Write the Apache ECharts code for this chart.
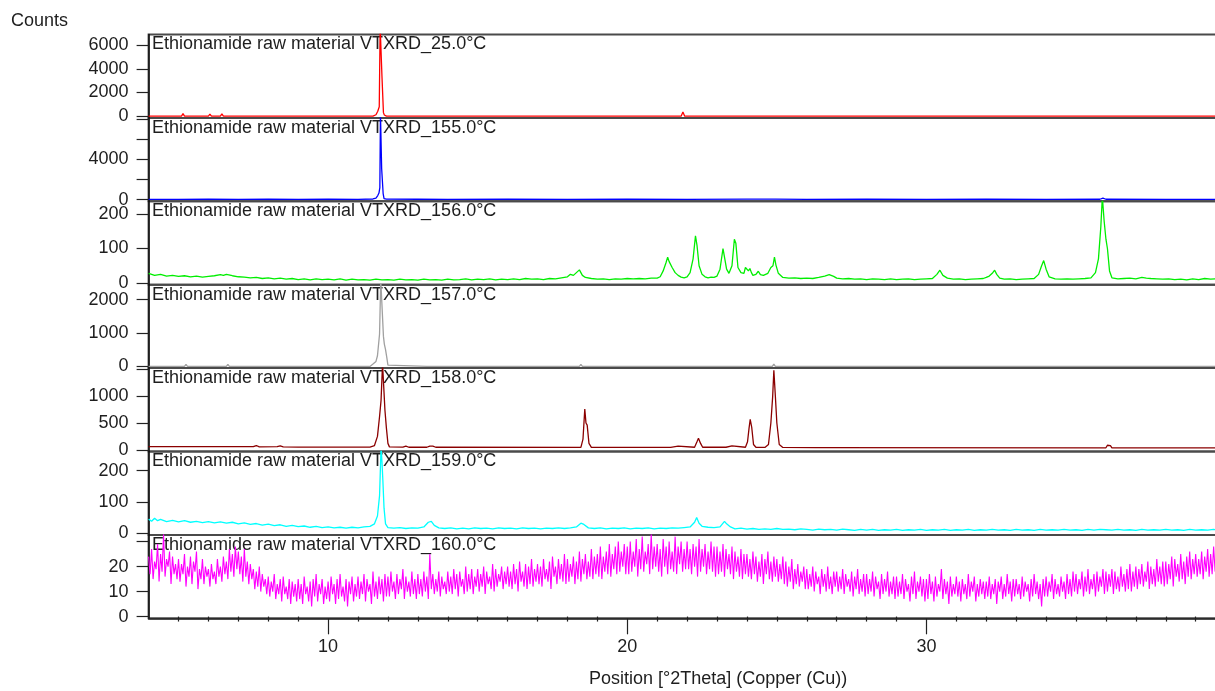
<!DOCTYPE html>
<html>
<head>
<meta charset="utf-8">
<script src="https://cdn.jsdelivr.net/npm/echarts@6.0.0/dist/echarts.min.js"></script>
<style>html,body{margin:0;padding:0;background:#fff}#chart{width:1215px;height:691px}</style>
</head>
<body>
<div id="chart"></div>
<script>
// ---------------- data ----------------
const panelTitles = [
  'Ethionamide raw material VTXRD_25.0°C',
  'Ethionamide raw material VTXRD_155.0°C',
  'Ethionamide raw material VTXRD_156.0°C',
  'Ethionamide raw material VTXRD_157.0°C',
  'Ethionamide raw material VTXRD_158.0°C',
  'Ethionamide raw material VTXRD_159.0°C',
  'Ethionamide raw material VTXRD_160.0°C'
];
const seriesColors = ['#ff0000', '#0000ff', '#00ee00', '#a0a0a0', '#8b0000', '#00ffff', '#ff00ff'];

// y-axis ranges, ticks and labels per panel
const yRanges = [[-145, 6900], [-170, 8130], [-5, 237], [-51, 2450], [-31, 1520], [-5.4, 261], [-0.7, 32.7]];
const yTicks = [[0, 2000, 4000, 6000], [0, 2000, 4000, 6000, 8000], [0, 100, 200], [0, 1000, 2000], [0, 500, 1000, 1500], [0, 100, 200], [0, 10, 20, 30]];
const yLabels = [[0, 2000, 4000, 6000], [0, 4000], [0, 100, 200], [0, 1000, 2000], [0, 500, 1000], [0, 100, 200], [0, 10, 20]];

const xMajorTicks = [10, 20, 30];
const xMinorTicks = [5, 6, 7, 8, 9, 11, 12, 13, 14, 15, 16, 17, 18, 19, 21, 22, 23, 24, 25, 26, 27, 28, 29, 31, 32, 33, 34, 35, 36, 37, 38, 39];

// 25.0 °C
const red25 = [[4,0],[5.1,0],[5.15,220],[5.2,0],[6.0,0],[6.05,180],[6.1,0],[6.4,0],[6.45,200],[6.5,0],[6.7,0],[6.75,160],[6.8,0],
  [11.5,0],[11.6,120],[11.66,420],[11.71,800],[11.74,7600],[11.78,7600],[11.8,3400],[11.83,3400],[11.85,300],[11.88,100],[11.95,0],
  [21.8,0],[21.86,360],[21.92,0],[40,0]];
// 155.0 °C
const blue155 = [[4,30],[5,25],[6,35],[7,30],[8,35],[9,28],[10,35],[11,30],[11.5,60],[11.6,150],[11.66,400],[11.7,650],[11.73,1200],
  [11.75,8600],[11.78,8600],[11.79,3100],[11.82,3100],[11.84,600],[11.87,100],[11.95,40],[13,35],[14,30],[16,35],[18,30],[20,35],
  [22,30],[24,40],[24.85,40],[24.9,110],[24.95,40],[26,30],[28,35],[30,30],[32,35],[34,30],[35.8,35],[35.9,150],[36.0,35],[38,30],[40,30]];
// 156.0 °C
const green156 = [[4.0,28],[4.2,22],[4.4,25],[4.6,20],[4.8,22],[5.0,19],[5.2,21],[5.4,18],[5.6,20],[5.8,17],[6.0,19],[6.2,21],[6.4,24],
  [6.5,22],[6.6,25],[6.8,21],[7.0,18],[7.2,17],[7.4,15],[7.6,16],[7.8,13],[8.0,15],[8.2,12],[8.4,14],[8.6,11],[8.8,13],[9.0,10],
  [9.2,12],[9.4,9],[9.6,12],[9.8,10],[10.0,11],[10.2,9],[10.4,12],[10.6,8],[10.8,11],[11.0,9],[11.2,10],[11.4,8],[11.6,11],[11.8,9],
  [12.0,10],[12.2,8],[12.4,11],[12.6,9],[12.8,10],[13.0,8],[13.2,11],[13.4,9],[13.6,10],[13.8,8],[14.0,11],[14.2,9],[14.4,10],
  [14.6,12],[14.8,9],[15.0,11],[15.2,10],[15.4,12],[15.6,9],[15.8,11],[16.0,10],[16.2,12],[16.4,10],[16.6,13],[16.8,11],[17.0,12],
  [17.2,10],[17.4,13],[17.6,12],[17.8,15],[18.0,18],[18.1,25],[18.2,22],[18.3,30],[18.4,38],[18.45,30],[18.5,22],[18.6,16],[18.8,13],
  [19.0,11],[19.2,12],[19.4,10],[19.6,12],[19.8,11],[20.0,13],[20.2,12],[20.4,13],[20.6,12],[20.8,14],[21.0,14],[21.1,18],[21.2,35],
  [21.3,60],[21.35,75],[21.4,62],[21.5,45],[21.6,30],[21.7,22],[21.8,17],[21.9,15],[22.0,18],[22.1,30],[22.2,70],[22.28,137],
  [22.33,110],[22.4,50],[22.5,25],[22.6,18],[22.7,15],[22.8,17],[22.9,16],[23.0,20],[23.1,40],[23.2,100],[23.26,95],[23.32,40],
  [23.4,28],[23.5,50],[23.58,127],[23.63,115],[23.7,45],[23.8,30],[23.9,28],[23.95,45],[24.0,48],[24.05,35],[24.1,42],[24.15,30],
  [24.2,22],[24.3,25],[24.38,34],[24.45,24],[24.55,22],[24.7,28],[24.8,45],[24.87,50],[24.92,75],[24.97,52],[25.05,28],[25.2,16],
  [25.4,14],[25.6,15],[25.8,13],[26.0,14],[26.2,13],[26.4,16],[26.6,20],[26.75,24],[26.9,19],[27.0,14],[27.2,12],[27.4,13],[27.6,11],
  [27.8,12],[28.0,10],[28.2,12],[28.4,11],[28.6,10],[28.8,12],[29.0,10],[29.2,11],[29.4,12],[29.6,10],[29.8,11],[30.0,12],[30.2,13],
  [30.35,25],[30.45,37],[30.55,22],[30.7,14],[30.9,11],[31.1,12],[31.3,10],[31.5,11],[31.7,12],[31.9,13],[32.0,16],[32.1,20],[32.2,28],
  [32.28,37],[32.35,25],[32.45,14],[32.6,11],[32.8,12],[33.0,10],[33.2,11],[33.4,12],[33.6,13],[33.75,25],[33.85,50],[33.92,65],
  [34.0,40],[34.1,18],[34.3,12],[34.5,11],[34.7,12],[34.9,11],[35.1,12],[35.3,13],[35.5,15],[35.65,30],[35.75,70],[35.83,164],
  [35.88,250],[35.94,180],[36.0,127],[36.05,100],[36.12,35],[36.2,15],[36.4,12],[36.6,13],[36.8,14],[37.0,12],[37.2,16],[37.35,14],
  [37.5,13],[37.7,12],[37.9,11],[38.1,12],[38.3,10],[38.5,11],[38.7,9],[38.9,12],[39.1,10],[39.3,13],[39.5,11],[39.7,12]];
// 157.0 °C
const grey157 = [[4,0],[5.2,0],[5.25,60],[5.3,0],[6.1,0],[6.15,50],[6.2,0],[6.6,0],[6.65,60],[6.7,0],[11.4,0],[11.5,70],[11.6,150],
  [11.65,320],[11.72,970],[11.76,2600],[11.81,2600],[11.85,900],[11.88,670],[11.92,500],[11.96,280],[12.0,40],[12.05,0],
  [13.3,0],[13.35,50],[13.4,0],[18.4,0],[18.45,60],[18.5,0],[21.5,0],[21.55,40],[21.6,0],[22.35,0],[22.4,50],[22.45,0],
  [23.35,0],[23.4,50],[23.45,0],[24.1,0],[24.15,30],[24.2,0],[24.85,0],[24.9,70],[24.95,0],[40,0]];
// 158.0 °C
const darkred158 = [[4,58],[7.5,58],[7.6,80],[7.7,55],[8.3,58],[8.4,75],[8.5,55],[9,52],[11.4,52],[11.55,80],[11.65,250],[11.72,620],
  [11.77,920],[11.82,1600],[11.87,1600],[11.9,735],[11.95,400],[12.0,120],[12.05,55],[12.5,50],[12.6,70],[12.7,48],[13.3,48],[13.4,70],
  [13.5,70],[13.6,48],[18.45,45],[18.52,200],[18.58,760],[18.62,500],[18.66,460],[18.72,120],[18.8,45],[21.45,45],[21.5,70],[21.7,70],
  [21.75,45],[22.25,48],[22.33,150],[22.38,215],[22.45,120],[22.52,48],[23.3,48],[23.35,75],[23.5,75],[23.55,48],[23.95,48],[24.02,150],
  [24.07,400],[24.11,565],[24.16,420],[24.22,100],[24.3,48],[24.6,45],[24.72,100],[24.8,500],[24.86,990],[24.9,1480],[24.95,1000],
  [25.0,500],[25.08,100],[25.2,45],[26.3,42],[26.35,70],[26.4,42],[36.0,38],[36.05,85],[36.15,80],[36.2,38],[37.2,38],[37.25,65],
  [37.3,38],[40,38]];
// 159.0 °C
const cyan159 = [[4.0,45],[4.1,38],[4.2,48],[4.3,40],[4.4,44],[4.6,37],[4.8,41],[5.0,36],[5.2,40],[5.4,35],[5.6,38],[5.8,34],[6.0,37],
  [6.2,33],[6.4,36],[6.6,32],[6.8,35],[7.0,30],[7.2,33],[7.4,28],[7.6,31],[7.8,26],[8.0,29],[8.2,24],[8.4,27],[8.6,22],[8.8,25],[9.0,21],
  [9.2,23],[9.4,19],[9.6,22],[9.8,18],[10.0,20],[10.2,17],[10.4,19],[10.6,16],[10.8,19],[11.0,17],[11.2,20],[11.4,22],[11.55,30],
  [11.65,55],[11.72,120],[11.77,275],[11.8,230],[11.83,170],[11.87,80],[11.92,30],[12.0,18],[12.2,16],[12.4,18],[12.6,15],[12.8,17],
  [13.0,16],[13.2,20],[13.35,35],[13.45,38],[13.55,25],[13.7,17],[13.9,15],[14.1,17],[14.3,14],[14.5,16],[14.7,14],[14.9,17],[15.1,15],
  [15.3,16],[15.5,14],[15.7,17],[15.9,15],[16.1,16],[16.3,14],[16.5,17],[16.7,15],[16.9,16],[17.1,14],[17.3,16],[17.5,15],[17.7,17],
  [17.9,15],[18.1,17],[18.3,20],[18.45,32],[18.55,28],[18.7,17],[18.9,15],[19.1,17],[19.3,14],[19.5,16],[19.7,15],[19.9,17],[20.1,14],
  [20.3,16],[20.5,15],[20.7,17],[20.9,14],[21.1,16],[21.3,15],[21.5,17],[21.7,16],[21.9,18],[22.1,20],[22.25,35],[22.32,50],[22.4,32],
  [22.5,22],[22.7,19],[22.9,18],[23.1,20],[23.25,38],[23.32,30],[23.45,20],[23.6,14],[23.8,16],[24.0,13],[24.2,15],[24.4,12],[24.6,14],
  [24.8,12],[25.0,15],[25.2,12],[25.4,13],[25.6,11],[25.8,14],[26.0,12],[26.2,10],[26.4,13],[26.6,11],[26.8,12],[27.0,10],[27.2,13],
  [27.4,11],[27.6,9],[27.8,12],[28.0,10],[28.2,12],[28.4,9],[28.6,11],[28.8,10],[29.0,12],[29.2,9],[29.4,11],[29.6,10],[29.8,12],
  [30.0,9],[30.2,11],[30.4,10],[30.6,12],[30.8,9],[31.0,11],[31.2,10],[31.4,12],[31.6,9],[31.8,11],[32.0,10],[32.2,12],[32.4,10],
  [32.6,11],[32.8,9],[33.0,12],[33.2,10],[33.4,11],[33.6,9],[33.8,12],[34.0,10],[34.2,11],[34.4,10],[34.6,12],[34.8,10],[35.0,11],
  [35.2,9],[35.4,12],[35.6,10],[35.8,12],[36.0,11],[36.2,10],[36.4,12],[36.6,10],[36.8,11],[37.0,9],[37.2,12],[37.4,10],[37.6,11],
  [37.8,10],[38.0,12],[38.2,10],[38.4,11],[38.6,9],[38.8,12],[39.0,10],[39.2,11],[39.4,10],[39.6,12],[39.7,11]];
// 160.0 °C : scan from 4.0° with 0.05° step (one row per degree)
const magentaStart = 4.0;
const magentaStep = 0.05;
const magenta160 = [
  24,17,27,15,22,19,29,14,25,18,33,16,23,20,26,13,24,17,21,15,
  23,14,21,17,25,12,20,16,24,13,22,18,26,11,19,15,23,13,20,16,
  19,12,21,15,18,13,23,16,20,14,24,17,22,15,27,18,25,16,28,19,
  26,17,24,14,27,16,22,13,21,15,19,11,18,12,20,10,17,12,15,9,
  16,8,14,10,17,7,13,9,15,6,16,9,12,7,15,5,14,8,13,6,
  15,7,13,5,16,9,12,6,14,4,15,8,17,6,13,9,15,5,12,7,
  14,6,16,9,13,5,15,7,17,8,12,6,15,4,14,9,16,6,13,8,
  16,7,14,9,17,6,15,10,13,5,18,8,14,7,16,9,15,6,17,8,
  16,8,18,10,14,7,17,9,15,11,19,7,16,10,14,8,18,9,15,7,
  17,9,15,8,18,10,16,7,25,11,17,9,15,10,18,8,16,11,14,9,
  18,10,16,9,19,11,17,8,18,12,15,9,20,10,17,11,19,9,16,12,
  19,10,17,12,20,9,18,13,16,11,21,10,19,12,17,14,20,11,18,13,
  20,12,18,11,21,13,19,10,22,14,18,12,21,11,20,13,23,12,19,14,
  21,13,20,12,23,15,19,14,22,11,24,16,20,13,23,15,21,14,25,13,
  23,14,21,16,24,13,22,15,26,14,23,17,25,15,22,16,27,15,24,17,
  25,16,28,15,24,18,26,17,29,16,25,19,28,17,30,18,26,20,29,17,
  28,17,30,18,26,20,31,16,27,19,32,18,26,21,29,17,33,19,28,20,
  29,18,27,16,31,20,28,17,30,19,26,18,32,17,28,21,30,18,27,19,
  30,19,27,17,29,20,28,16,31,18,27,20,29,17,26,19,30,18,28,16,
  28,17,26,18,29,16,27,19,25,17,28,15,26,18,24,16,27,15,25,17,
  25,16,23,15,26,17,24,14,22,16,25,13,23,17,26,15,22,14,24,16,
  23,14,21,15,24,13,22,12,20,14,23,11,19,13,21,12,18,14,20,11,
  19,11,17,12,20,10,18,13,16,9,19,12,17,10,20,11,16,9,18,12,
  18,10,16,11,19,9,17,12,15,10,18,8,16,11,19,9,15,10,17,8,
  17,9,15,10,18,8,16,11,14,7,17,9,15,10,18,8,14,9,16,7,
  16,8,14,9,17,7,15,10,13,6,16,9,18,7,14,10,16,8,15,6,
  15,7,17,9,14,6,16,8,13,10,19,7,15,9,14,5,16,8,13,9,
  16,8,14,6,15,9,13,7,17,8,14,10,16,6,13,8,15,9,14,7,
  14,8,16,7,13,9,15,5,14,10,16,7,13,8,17,9,14,6,15,8,
  15,9,13,7,16,8,14,10,13,6,15,8,17,9,14,7,13,4,15,8,
  16,8,14,10,17,7,15,9,13,8,16,10,14,7,17,9,15,8,18,10,
  17,9,15,11,18,8,16,10,19,9,15,11,17,8,18,10,16,12,19,9,
  18,10,17,12,19,9,18,11,16,10,20,12,17,10,19,11,21,10,18,12,
  20,11,19,13,21,12,18,14,22,11,20,13,19,12,23,14,20,13,22,12,
  22,13,21,15,24,12,23,16,21,14,25,15,22,13,24,16,26,15,23,17,
  25,16,23,17,26,15,24,18,27,16,25,17,28,18
];

// ---------------- layout / build ----------------
const FONT = '"Liberation Sans", Arial, sans-serif';
const TXT = '#1e1e1e';
const panelTop = 34.5, panelH = 83.4, plotLeft = 148.6, plotWidth = 1077;
const xMin = 4, xMax = 40;

const magentaPairs = magenta160.map((v, i) => [+(magentaStart + i * magentaStep).toFixed(2), v]);
const allData = [red25, blue155, green156, grey157, darkred158, cyan159, magentaPairs];
const plainNum = v => String(v);

const grids = [], xAxes = [], yAxes = [], series = [], titles = [];
for (let i = 0; i < 7; i++) {
  const top = panelTop + i * panelH;
  grids.push({ left: plotLeft, top: top, width: plotWidth, height: panelH, show: true,
    outerBoundsMode: 'none', containLabel: false,
    borderColor: '#4a4a4a', borderWidth: 2, backgroundColor: 'transparent' });
  const last = i === 6;
  xAxes.push({ type: 'value', gridIndex: i, min: xMin, max: xMax, position: 'bottom',
    axisLine: { show: last, onZero: false, lineStyle: { color: '#222', width: 1.5 } },
    axisTick: { show: last, length: 16, customValues: xMajorTicks, lineStyle: { color: '#222', width: 1.2 } },
    axisLabel: { show: last, customValues: xMajorTicks, formatter: plainNum, margin: 20, fontSize: 18, color: TXT, fontFamily: FONT },
    splitLine: { show: false },
    name: last ? 'Position [°2Theta] (Copper (Cu))' : '', nameLocation: 'middle', nameGap: 52,
    nameTextStyle: { fontSize: 18, color: TXT, fontFamily: FONT, padding: [0, 0, 0, 62] } });
  yAxes.push({ type: 'value', gridIndex: i, min: yRanges[i][0], max: yRanges[i][1],
    axisLine: { show: true, lineStyle: { color: '#111', width: 1.5 } },
    axisTick: { show: true, length: 12, customValues: yTicks[i], lineStyle: { color: '#222', width: 1.2 } },
    axisLabel: { show: true, customValues: yLabels[i], formatter: plainNum, margin: 20, fontSize: 18, color: TXT, fontFamily: FONT },
    splitLine: { show: false } });
  series.push({ type: 'line', xAxisIndex: i, yAxisIndex: i, data: allData[i], showSymbol: false, symbol: 'none',
    sampling: null, clip: true, animation: false, z: 3,
    lineStyle: { color: seriesColors[i], width: last ? 1.1 : 1.3 }, itemStyle: { color: seriesColors[i] } });
  titles.push({ text: panelTitles[i], left: 152, top: top + 1, padding: 0, z: 1,
    textStyle: { fontSize: 18, fontWeight: 'normal', color: TXT, fontFamily: FONT } });
}
// minor ticks on the bottom axis
xAxes.push({ type: 'value', gridIndex: 6, min: xMin, max: xMax, position: 'bottom',
  axisLine: { show: false }, axisLabel: { show: false }, splitLine: { show: false },
  axisTick: { show: true, length: 5, customValues: xMinorTicks, lineStyle: { color: '#222', width: 1.2 } } });
series.push({ type: 'line', xAxisIndex: 7, yAxisIndex: 6, data: [], showSymbol: false });

const chart = echarts.init(document.getElementById('chart'), null, { renderer: 'canvas' });
chart.setOption({
  animation: false,
  backgroundColor: '#ffffff',
  title: titles,
  grid: grids,
  xAxis: xAxes,
  yAxis: yAxes,
  series: series,
  graphic: [{ type: 'text', left: 11, top: 12, style: { text: 'Counts', fontSize: 18, fill: TXT, fontFamily: FONT } }]
});
</script>
</body>
</html>
